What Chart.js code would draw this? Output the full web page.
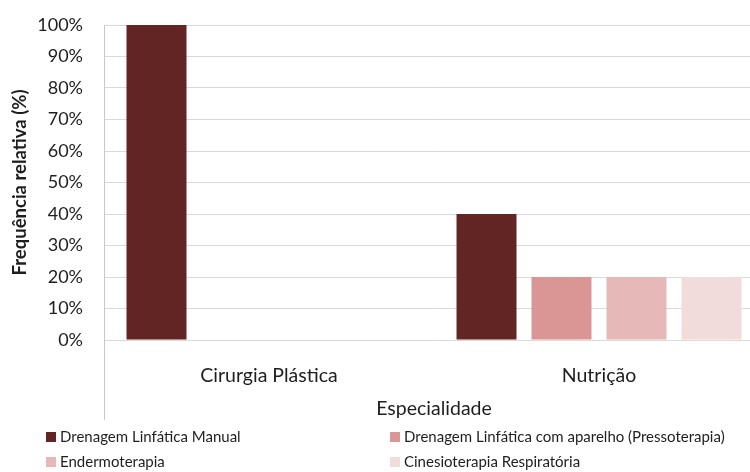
<!DOCTYPE html>
<html>
<head>
<meta charset="utf-8">
<script src="https://cdn.jsdelivr.net/npm/chart.js@4/dist/chart.umd.min.js"></script>
<style>
  html, body { margin: 0; padding: 0; background: #fff; overflow: hidden; }
  #wrap { width: 764px; height: 472px; }
</style>
</head>
<body>
<div id="wrap"><canvas id="myChart" width="764" height="472"></canvas></div>
<script>
'use strict';

// especialidades (eixo x)
var categories = ['Cirurgia Plástica', 'Nutrição'];

// frequência relativa (%) por recurso
var drenagemManual = [100, 40];
var drenagemAparelho = [0, 20];
var endermoterapia = [0, 20];
var cinesioterapia = [0, 20];

var seriesLabels = [
  'Drenagem Linfática Manual',
  'Drenagem Linfática com aparelho (Pressoterapia)',
  'Endermoterapia',
  'Cinesioterapia Respiratória'
];
var seriesColors = ['#632523', '#d99694', '#e6b9b8', '#f2dcdb'];

var FONT = 'Lato, "Open Sans", sans-serif';
var TEXT = '#1e1e1e';

function makeDataset(index, values) {
  return {
    label: seriesLabels[index],
    data: values,
    backgroundColor: seriesColors[index],
    borderWidth: 0,
    barPercentage: 0.8,
    categoryPercentage: 0.909
  };
}

// linha do eixo vertical que desce até o título do eixo x
var axisExtension = {
  id: 'axisExtension',
  afterDraw: function(chart) {
    var ctx = chart.ctx;
    var x = Math.round(chart.scales.x.left) + 0.5;
    ctx.save();
    ctx.strokeStyle = '#c8c8c8';
    ctx.lineWidth = 1;
    ctx.beginPath();
    ctx.moveTo(x, chart.chartArea.bottom);
    ctx.lineTo(x, chart.chartArea.bottom + 80);
    ctx.stroke();
    ctx.restore();
  }
};

// legenda em duas colunas abaixo do gráfico
var gridLegend = {
  id: 'gridLegend',
  afterDraw: function(chart) {
    var ctx = chart.ctx;
    var cols = [46, 390];
    var rows = [437, 462];
    ctx.save();
    ctx.font = '15px ' + FONT;
    ctx.textBaseline = 'middle';
    ctx.textAlign = 'left';
    chart.data.datasets.forEach(function(ds, i) {
      var x = cols[i % 2];
      var y = rows[Math.floor(i / 2)];
      ctx.fillStyle = ds.backgroundColor;
      ctx.fillRect(x, y - 5, 10, 10);
      ctx.fillStyle = TEXT;
      ctx.fillText(ds.label, x + 14, y);
    });
    ctx.restore();
  }
};

var ctx = document.getElementById('myChart').getContext('2d');
var myChart = new Chart(ctx, {
  type: 'bar',
  data: {
    labels: categories,
    datasets: [
      makeDataset(0, drenagemManual),
      makeDataset(1, drenagemAparelho),
      makeDataset(2, endermoterapia),
      makeDataset(3, cinesioterapia)
    ]
  },
  options: {
    responsive: false,
    animation: false,
    devicePixelRatio: 1,
    layout: {
      padding: { top: 25, right: 0, bottom: 52, left: 0 }
    },
    plugins: {
      legend: { display: false },
      tooltip: { enabled: false }
    },
    scales: {
      x: {
        offset: true,
        grid: { display: false },
        border: { display: false },
        ticks: {
          color: TEXT,
          padding: 16,
          font: { family: FONT, size: 19.5 }
        },
        title: {
          display: true,
          text: 'Especialidade',
          color: TEXT,
          font: { family: FONT, size: 19.5 },
          padding: { top: 16, bottom: 0 }
        },
        afterFit: function(scale) {
          scale.height = 80;
          scale.paddingLeft = 0;
          scale.paddingRight = 0;
        }
      },
      y: {
        min: 0,
        max: 100,
        grid: {
          color: '#d9d9d9',
          drawTicks: false
        },
        border: { color: '#c8c8c8' },
        ticks: {
          stepSize: 10,
          color: TEXT,
          padding: 21,
          font: { family: FONT, size: 18 },
          callback: function(v) { return v + '%'; }
        },
        title: {
          display: true,
          text: 'Frequência relativa (%)',
          color: TEXT,
          font: { family: FONT, size: 18.5, weight: 'bold' },
          padding: { top: 9, bottom: 0 }
        },
        afterFit: function(scale) {
          scale.width = 104;
          scale.paddingTop = 0;
          scale.paddingBottom = 0;
        }
      }
    }
  },
  plugins: [axisExtension, gridLegend]
});
</script>
</body>
</html>
